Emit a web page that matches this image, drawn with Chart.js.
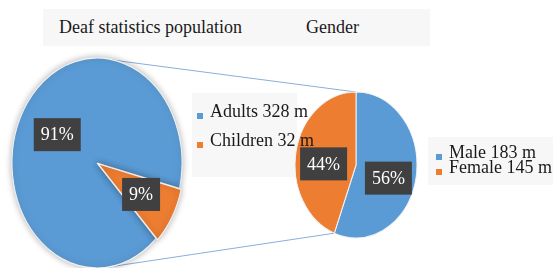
<!DOCTYPE html>
<html>
<head>
<meta charset="utf-8">
<script src="https://cdn.jsdelivr.net/npm/chart.js@4.4.0/dist/chart.umd.min.js"></script>
<style>
body{margin:0;width:553px;height:268px;overflow:hidden;background:#fff;position:relative;
  font-family:"Liberation Serif","Times New Roman",serif;font-size:18px;line-height:18px;color:#1a1a1a}
.abs{position:absolute;white-space:nowrap}
.box{background:#f7f7f7}
.mk{position:absolute;width:6px;height:6px}
</style>
</head>
<body>
<div class="abs box" style="left:43px;top:9px;width:387px;height:37px"></div>
<div class="abs" id="t1" style="left:59px;top:18px"></div>
<div class="abs" id="t2" style="left:306px;top:18px"></div>

<canvas id="lines" class="abs" width="553" height="268" style="left:0;top:0;z-index:1"></canvas>
<div class="abs box" style="left:192px;top:93px;width:105px;height:84px;z-index:1"></div>
<div class="abs box" style="left:428px;top:137px;width:125px;height:48px;z-index:1"></div>

<div class="abs" style="left:0;top:48px;width:194px;height:230px;z-index:2"><canvas id="pieL"></canvas></div>
<div class="abs" style="left:281px;top:80px;width:150px;height:170px;z-index:2"><canvas id="pieR"></canvas></div>

<div id="leg1" class="abs" style="left:0;top:0;z-index:3"></div>
<div id="leg2" class="abs" style="left:0;top:0;z-index:3"></div>

<script>
// pie of pie: population split, then gender split of adults
const titleMain = 'Deaf statistics population';
const titleSub = 'Gender';
const groups = ['Adults', 'Children'];
const groupValues = [328, 32];
const genders = ['Male', 'Female'];
const genderValues = [183, 145];
const unit = 'm';
const colors = ['#5B9BD5', '#ED7D31'];

document.getElementById('t1').textContent = titleMain;
document.getElementById('t2').textContent = titleSub;

function legend(id, names, vals, x, y, gap) {
  const el = document.getElementById(id);
  names.forEach((n, i) => {
    const m = document.createElement('div');
    m.className = 'mk';
    m.style.left = x + 'px';
    m.style.top = (y + i * gap - 4) + 'px';
    m.style.background = colors[i];
    el.appendChild(m);
    const t = document.createElement('div');
    t.className = 'abs';
    t.style.left = (x + 13) + 'px';
    t.style.top = (y + i * gap - 15) + 'px';
    t.textContent = n + ' ' + vals[i] + ' ' + unit;
    el.appendChild(t);
  });
}
legend('leg1', groups, groupValues, 197, 117, 29);
legend('leg2', genders, genderValues, 436, 158, 15);

// squash circle into ellipse + dark percent boxes
const stretch = {
  id: 'stretch',
  beforeDatasetsDraw(chart, args, opts) {
    const el = chart.getDatasetMeta(0).data[0];
    const ctx = chart.ctx;
    ctx.save();
    ctx.translate(el.x, el.y);
    ctx.scale(1, opts.k);
    ctx.translate(-el.x, -el.y);
    if (opts.shadow) {
      ctx.shadowColor = 'rgba(0,0,0,0.3)';
      ctx.shadowBlur = opts.shadow;
    }
  },
  afterDatasetsDraw(chart, args, opts) {
    const ctx = chart.ctx;
    ctx.restore();
    const meta = chart.getDatasetMeta(0);
    const vals = chart.data.datasets[0].data;
    const total = vals.reduce((a, b) => a + b, 0);
    ctx.save();
    ctx.font = '18px "Liberation Serif", "Times New Roman", serif';
    ctx.textAlign = 'center';
    ctx.textBaseline = 'middle';
    meta.data.forEach((arc, i) => {
      const mid = (arc.startAngle + arc.endAngle) / 2;
      const d = arc.outerRadius * 0.54 + (arc.options.offset || 0);
      const x = arc.x + Math.cos(mid) * d;
      const y = arc.y + Math.sin(mid) * d * opts.k + (opts.dy || 0);
      const txt = Math.round(vals[i] / total * 100) + '%';
      const w = ctx.measureText(txt).width + 14;
      ctx.fillStyle = '#404040';
      ctx.fillRect(x - w / 2, y - 16.5, w, 33);
      ctx.fillStyle = '#fff';
      ctx.fillText(txt, x, y + 1);
    });
    ctx.restore();
  }
};

function pie(id, labels, data, radius, k, rotation, offset, shadow, dy) {
  return new Chart(document.getElementById(id), {
    type: 'pie',
    data: {
      labels: labels,
      datasets: [{
        data: data,
        backgroundColor: colors,
        borderColor: '#f2f2f2',
        borderWidth: 1,
        offset: offset
      }]
    },
    options: {
      responsive: true,
      maintainAspectRatio: false,
      animation: false,
      radius: radius,
      rotation: rotation,
      plugins: {
        legend: {display: false},
        tooltip: {enabled: false},
        stretch: {k: k, shadow: shadow, dy: dy}
      }
    },
    plugins: [stretch]
  });
}

const left = pie('pieL', groups, groupValues, 85, 105 / 85, 136, [0, 5], 7, 0);
const right = pie('pieR', genders, genderValues, 61, 73 / 61, 0, [0, 0], 0, 6);

// connector lines between the two pies
const lc = document.getElementById('lines').getContext('2d');
const a = left.getDatasetMeta(0).data[0];
const b = right.getDatasetMeta(0).data[0];
const L = {x: a.x + 0, y: a.y + 48, rx: a.outerRadius, ry: a.outerRadius * 105 / 85};
const R = {x: b.x + 281, y: b.y + 80, rx: b.outerRadius, ry: b.outerRadius * 73 / 61};
const bt = b.endAngle;
lc.strokeStyle = '#8aaedb';
lc.lineWidth = 1;
lc.beginPath();
lc.moveTo(L.x, L.y - L.ry);
lc.lineTo(R.x, R.y - R.ry);
lc.moveTo(L.x + L.rx * Math.sin(0.14), L.y + L.ry * Math.cos(0.14));
lc.lineTo(R.x + Math.cos(bt) * R.rx, R.y + Math.sin(bt) * R.ry);
lc.stroke();
</script>
</body>
</html>
